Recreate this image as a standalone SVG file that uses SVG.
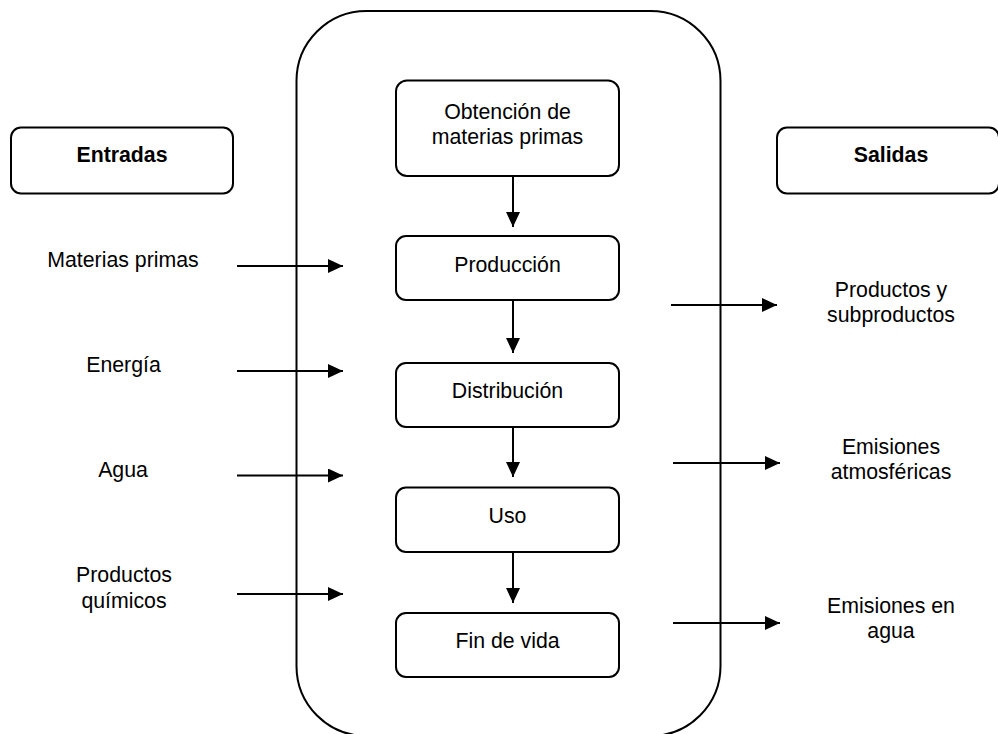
<svg xmlns="http://www.w3.org/2000/svg" width="998" height="734" viewBox="0 0 998 734">
  <style>
    .box { fill: #ffffff; stroke: #000000; stroke-width: 2; }
    .frame { fill: none; stroke: #000000; stroke-width: 2; }
    .lbl { font-family: "Liberation Sans", Arial, sans-serif; font-size: 21.3px; fill: #000000; text-anchor: middle; }
    .head { font-weight: bold; }
    .edge { stroke: #000000; stroke-width: 2; fill: none; marker-end: url(#arrow); }
  </style>
  <defs>
    <marker id="arrow" markerUnits="userSpaceOnUse" markerWidth="15" markerHeight="14" refX="15" refY="7" orient="auto">
      <path d="M0,0 L15,7 L0,14 z" fill="#000000"/>
    </marker>
  </defs>

  <rect width="998" height="734" fill="#ffffff"/>

  <!-- life-cycle frame -->
  <g id="frame">
    <rect class="frame" x="296.5" y="11" width="424" height="725" rx="70" ry="70"/>
  </g>

  <!-- column headers -->
  <g id="entradas">
    <rect class="box" x="11" y="127.5" width="222" height="66" rx="10" ry="10"/>
    <text class="lbl head" x="122" y="162">Entradas</text>
  </g>
  <g id="salidas">
    <rect class="box" x="777" y="127.5" width="222" height="66" rx="10" ry="10"/>
    <text class="lbl head" x="891" y="162">Salidas</text>
  </g>

  <!-- life-cycle stages -->
  <g id="obtencion">
    <rect class="box" x="396" y="80.5" width="223" height="95.5" rx="11" ry="11"/>
    <text class="lbl" x="507.5" y="119">Obtención de</text>
    <text class="lbl" x="507.5" y="144">materias primas</text>
  </g>
  <g id="produccion">
    <rect class="box" x="396" y="236" width="223" height="64" rx="10" ry="10"/>
    <text class="lbl" x="507.5" y="272">Producción</text>
  </g>
  <g id="distribucion">
    <rect class="box" x="396" y="363" width="223" height="64" rx="10" ry="10"/>
    <text class="lbl" x="507.5" y="398">Distribución</text>
  </g>
  <g id="uso">
    <rect class="box" x="396" y="487.5" width="223" height="64.5" rx="10" ry="10"/>
    <text class="lbl" x="507.5" y="523">Uso</text>
  </g>
  <g id="fin-de-vida">
    <rect class="box" x="396" y="613" width="223" height="64" rx="10" ry="10"/>
    <text class="lbl" x="507.5" y="648">Fin de vida</text>
  </g>

  <!-- inputs -->
  <g id="in-materias">
    <text class="lbl" x="123" y="267">Materias primas</text>
  </g>
  <g id="in-energia">
    <text class="lbl" x="123.5" y="372">Energía</text>
  </g>
  <g id="in-agua">
    <text class="lbl" x="123" y="477">Agua</text>
  </g>
  <g id="in-quimicos">
    <text class="lbl" x="124" y="582">Productos</text>
    <text class="lbl" x="124" y="607.5">químicos</text>
  </g>

  <!-- outputs -->
  <g id="out-productos">
    <text class="lbl" x="891" y="297">Productos y</text>
    <text class="lbl" x="891" y="321.5">subproductos</text>
  </g>
  <g id="out-atmosfera">
    <text class="lbl" x="891" y="453.5">Emisiones</text>
    <text class="lbl" x="891" y="478.5">atmosféricas</text>
  </g>
  <g id="out-agua">
    <text class="lbl" x="891" y="613">Emisiones en</text>
    <text class="lbl" x="891" y="638">agua</text>
  </g>

  <!-- connectors -->
  <g id="connectors">
    <line class="edge" x1="513" y1="176" x2="513" y2="227"/>
    <line class="edge" x1="513" y1="300" x2="513" y2="353"/>
    <line class="edge" x1="513" y1="427" x2="513" y2="477"/>
    <line class="edge" x1="513" y1="552" x2="513" y2="603"/>

    <line class="edge" x1="237" y1="266" x2="343" y2="266"/>
    <line class="edge" x1="237" y1="371" x2="343" y2="371"/>
    <line class="edge" x1="237" y1="475.5" x2="343" y2="475.5"/>
    <line class="edge" x1="237" y1="594" x2="343" y2="594"/>

    <line class="edge" x1="671" y1="305" x2="777" y2="305"/>
    <line class="edge" x1="673" y1="463" x2="780" y2="463"/>
    <line class="edge" x1="673" y1="623" x2="780" y2="623"/>
  </g>
</svg>
